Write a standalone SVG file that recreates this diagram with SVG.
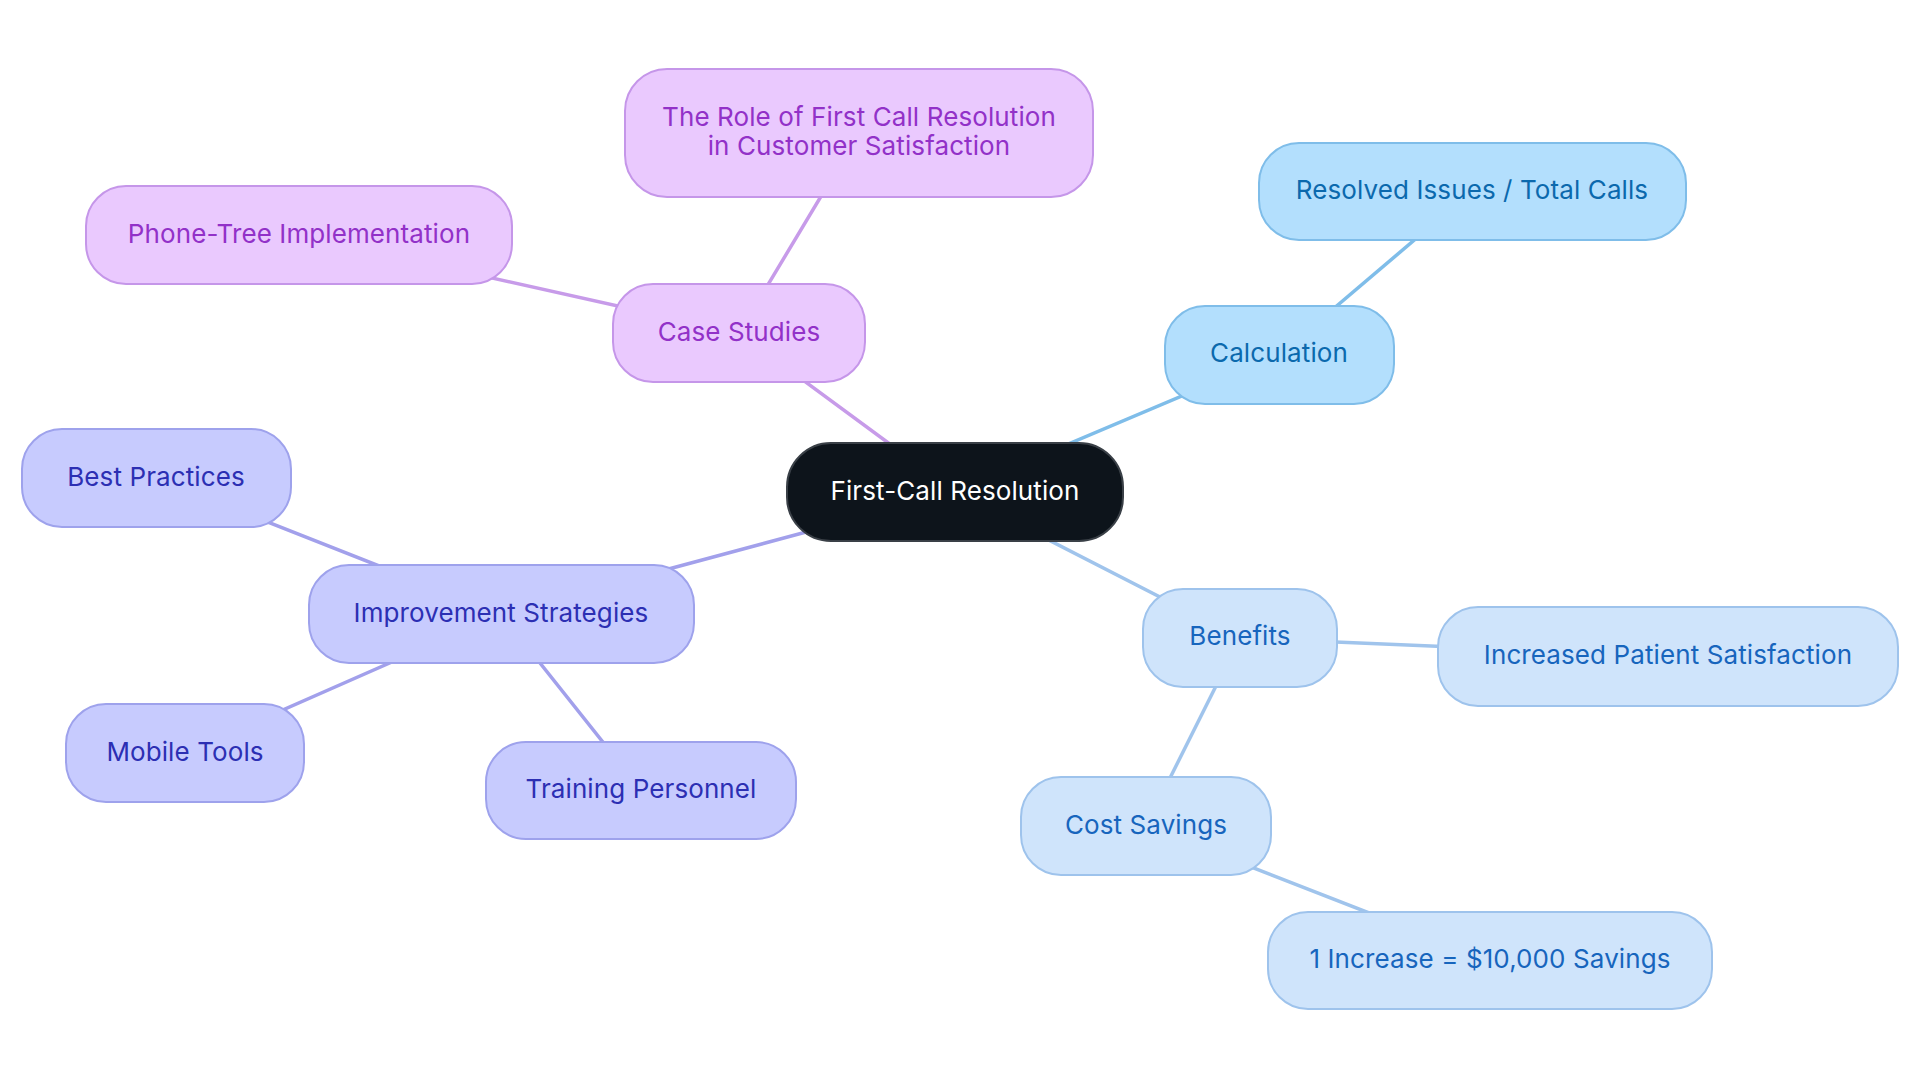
<svg xmlns="http://www.w3.org/2000/svg" width="1920" height="1083" viewBox="0 0 1920 1083">
<style>
text{font-family:Inter,"Noto Sans","Liberation Sans",sans-serif;font-size:26px;letter-spacing:0.1px;text-anchor:middle}
.p rect{fill:#eac9fe;stroke:#c596e9;stroke-width:2}
.p text{fill:#9231c8}
.v rect{fill:#c7cbfe;stroke:#9ea2ec;stroke-width:2}
.v text{fill:#2c2fb3}
.b rect{fill:#b3dffd;stroke:#7fbde9;stroke-width:2}
.b text{fill:#0b69ad}
.l rect{fill:#cfe4fb;stroke:#9ec3ec;stroke-width:2}
.l text{fill:#1765bd}
.c rect{fill:#0d141b;stroke:#3a4047;stroke-width:2}
.c text{fill:#ffffff}
#edges line{stroke-width:3.5;stroke-linecap:round}
</style>
<rect width="1920" height="1083" fill="#ffffff"/>
<g id="edges">
<line x1="955" y1="492" x2="739" y2="333" stroke="#c79be9"/>
<line x1="739" y1="333" x2="859" y2="133" stroke="#c79be9"/>
<line x1="739" y1="333" x2="299" y2="235" stroke="#c79be9"/>
<line x1="955" y1="492" x2="1279" y2="355" stroke="#7fbde9"/>
<line x1="1279" y1="355" x2="1472" y2="191" stroke="#7fbde9"/>
<line x1="955" y1="492" x2="501" y2="614" stroke="#a2a0eb"/>
<line x1="501" y1="614" x2="156" y2="478" stroke="#a2a0eb"/>
<line x1="501" y1="614" x2="185" y2="753" stroke="#a2a0eb"/>
<line x1="501" y1="614" x2="641" y2="790" stroke="#a2a0eb"/>
<line x1="955" y1="492" x2="1240" y2="638" stroke="#a0c4ec"/>
<line x1="1240" y1="638" x2="1668" y2="656" stroke="#a0c4ec"/>
<line x1="1240" y1="638" x2="1146" y2="826" stroke="#a0c4ec"/>
<line x1="1146" y1="826" x2="1490" y2="960" stroke="#a0c4ec"/>
</g>
<g id="n-role" class="p"><rect x="625" y="69" width="468" height="128" rx="42"/><text x="859" y="126">The Role of First Call Resolution</text><text x="859" y="155">in Customer Satisfaction</text></g>
<g id="n-phone" class="p"><rect x="86" y="186" width="426" height="98" rx="40"/><text x="299" y="243">Phone-Tree Implementation</text></g>
<g id="n-case" class="p"><rect x="613" y="284" width="252" height="98" rx="40"/><text x="739" y="341">Case Studies</text></g>
<g id="n-resolved" class="b"><rect x="1259" y="143" width="427" height="97" rx="40"/><text x="1472" y="199">Resolved Issues / Total Calls</text></g>
<g id="n-calc" class="b"><rect x="1165" y="306" width="229" height="98" rx="40"/><text x="1279" y="362">Calculation</text></g>
<g id="n-center" class="c"><rect x="787" y="443" width="336" height="98" rx="44"/><text x="955" y="500">First-Call Resolution</text></g>
<g id="n-best" class="v"><rect x="22" y="429" width="269" height="98" rx="40"/><text x="156" y="486">Best Practices</text></g>
<g id="n-improve" class="v"><rect x="309" y="565" width="385" height="98" rx="40"/><text x="501" y="622">Improvement Strategies</text></g>
<g id="n-mobile" class="v"><rect x="66" y="704" width="238" height="98" rx="40"/><text x="185" y="761">Mobile Tools</text></g>
<g id="n-training" class="v"><rect x="486" y="742" width="310" height="97" rx="40"/><text x="641" y="798">Training Personnel</text></g>
<g id="n-benefits" class="l"><rect x="1143" y="589" width="194" height="98" rx="40"/><text x="1240" y="645">Benefits</text></g>
<g id="n-increased" class="l"><rect x="1438" y="607" width="460" height="99" rx="40"/><text x="1668" y="664">Increased Patient Satisfaction</text></g>
<g id="n-cost" class="l"><rect x="1021" y="777" width="250" height="98" rx="40"/><text x="1146" y="834">Cost Savings</text></g>
<g id="n-inc1" class="l"><rect x="1268" y="912" width="444" height="97" rx="40"/><text x="1490" y="968">1 Increase = $10,000 Savings</text></g>
</svg>
